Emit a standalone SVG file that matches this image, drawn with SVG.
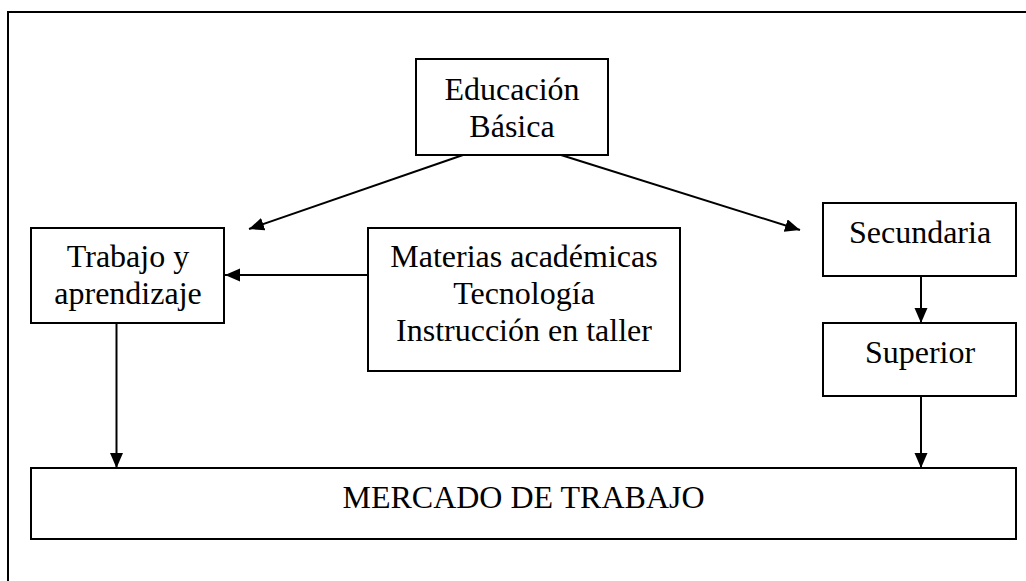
<svg xmlns="http://www.w3.org/2000/svg" width="1026" height="581" viewBox="0 0 1026 581">
<style>
.box{fill:#fff;stroke:#000;stroke-width:2}
.t{font-family:"Liberation Serif","Times New Roman",serif;font-size:32px;fill:#000;text-anchor:middle}
.c{stroke:#000;stroke-width:2;fill:none;marker-end:url(#ah)}
</style>
<defs>
<marker id="ah" markerUnits="userSpaceOnUse" markerWidth="16" markerHeight="14" refX="15" refY="6.5" orient="auto">
<path d="M0,0 L15,6.5 L0,13 Z" fill="#000"/>
</marker>
</defs>
<rect x="8" y="12" width="1030" height="580" fill="#fff" stroke="#000" stroke-width="2"/>
<g id="connectors">
<line class="c" x1="463" y1="155" x2="249" y2="229"/>
<line class="c" x1="561" y1="155" x2="800" y2="230"/>
<line class="c" x1="368" y1="275" x2="225" y2="275"/>
<line class="c" x1="921" y1="276" x2="921" y2="323"/>
<line class="c" x1="116.5" y1="323" x2="116.5" y2="468"/>
<line class="c" x1="921" y1="396" x2="921" y2="468"/>
</g>
<g id="educacion">
<rect class="box" x="416" y="59" width="192" height="96"/>
<text class="t" x="512" y="100">Educación</text>
<text class="t" x="512" y="137">Básica</text>
</g>
<g id="trabajo">
<rect class="box" x="31" y="228" width="193" height="95"/>
<text class="t" x="128" y="267">Trabajo y</text>
<text class="t" x="128" y="304">aprendizaje</text>
</g>
<g id="materias">
<rect class="box" x="368" y="228" width="312" height="143"/>
<text class="t" x="524" y="267">Materias académicas</text>
<text class="t" x="524" y="304">Tecnología</text>
<text class="t" x="524" y="341">Instrucción en taller</text>
</g>
<g id="secundaria">
<rect class="box" x="823" y="203" width="193" height="73"/>
<text class="t" x="920" y="243">Secundaria</text>
</g>
<g id="superior">
<rect class="box" x="823" y="323" width="193" height="73"/>
<text class="t" x="920" y="363">Superior</text>
</g>
<g id="mercado">
<rect class="box" x="31" y="468" width="985" height="71"/>
<text class="t" x="523.5" y="508">MERCADO DE TRABAJO</text>
</g>
</svg>
